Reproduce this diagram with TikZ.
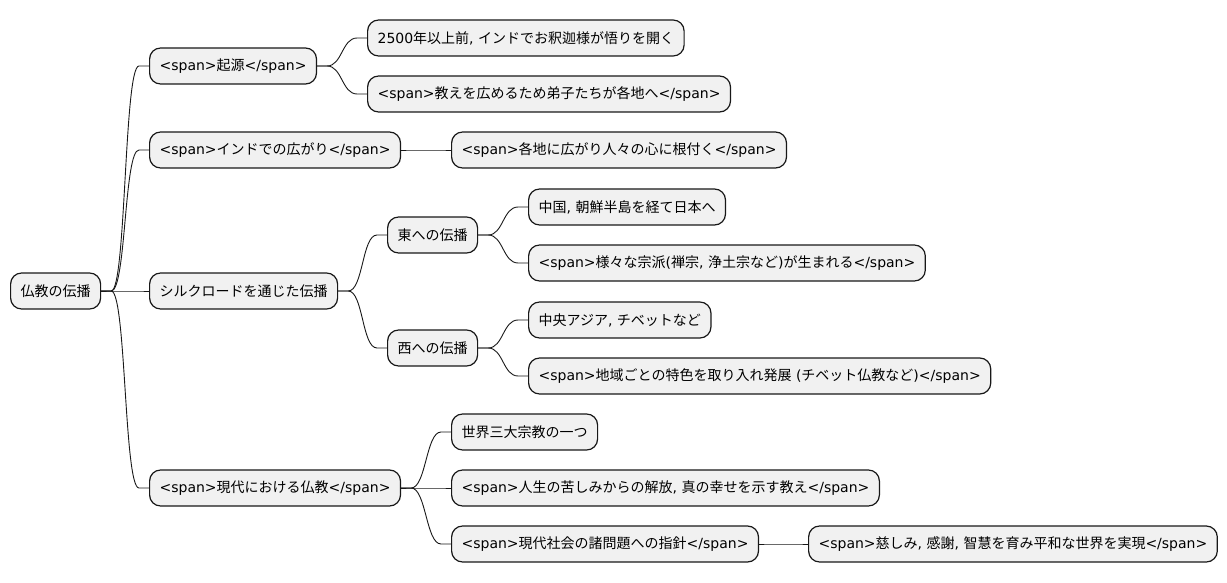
\documentclass[tikz,border=0pt]{standalone}
\usepackage{fontspec}
\setmainfont{DejaVu Sans}
\newfontfamily\jpfont{Noto Sans CJK JP}
\newcommand\jp[1]{{\jpfont #1}}
\definecolor{boxfill}{HTML}{F1F1F1}
\definecolor{boxline}{HTML}{181818}
\tikzset{
    topic/.style={draw=boxline, fill=boxfill, rounded corners=11pt, line width=1.2pt,
        minimum height=36pt, inner xsep=10pt, inner ysep=0pt, anchor=west,
        font=\fontsize{14}{17}\selectfont},
    link/.style={draw=boxline, line width=0.9pt}
}
\newcommand\branch[2]{\draw[link] (#1.east) -- ++(10,0) .. controls +(15,0) and +(-15,0) .. ([xshift=-10pt]#2.west) -- (#2.west);}
\begin{document}
\begin{tikzpicture}[x = 1pt, y = -1pt]
    \useasboundingbox (0,0) rectangle (1227,583);
    % root
    \node[topic] (root) at (10,291) {\jp{仏教の伝播}};
    % first level
    \node[topic] (origin) at (149,66) {<span>\jp{起源}</span>};
    \node[topic] (india) at (149,150) {<span>\jp{インドでの広がり}</span>};
    \node[topic] (silk) at (149,291) {\jp{シルクロードを通じた伝播}};
    \node[topic] (modern) at (149,488) {<span>\jp{現代における仏教}</span>};
    % second level
    \node[topic] (origin1) at (367,38) {2500\jp{年以上前}, \jp{インドでお釈迦様が悟りを開く}};
    \node[topic] (origin2) at (367,94) {<span>\jp{教えを広めるため弟子たちが各地へ}</span>};
    \node[topic] (india1) at (451,150) {<span>\jp{各地に広がり人々の心に根付く}</span>};
    \node[topic] (east) at (387,235) {\jp{東への伝播}};
    \node[topic] (west) at (387,348) {\jp{西への伝播}};
    \node[topic] (modern1) at (451,432) {\jp{世界三大宗教の一つ}};
    \node[topic] (modern2) at (451,488) {<span>\jp{人生の苦しみからの解放}, \jp{真の幸せを示す教え}</span>};
    \node[topic] (modern3) at (451,544) {<span>\jp{現代社会の諸問題への指針}</span>};
    % third level
    \node[topic] (east1) at (528,207) {\jp{中国}, \jp{朝鮮半島を経て日本へ}};
    \node[topic] (east2) at (528,263) {<span>\jp{様々な宗派}(\jp{禅宗}, \jp{浄土宗など})\jp{が生まれる}</span>};
    \node[topic] (west1) at (528,320) {\jp{中央アジア}, \jp{チベットなど}};
    \node[topic] (west2) at (528,376) {<span>\jp{地域ごとの特色を取り入れ発展} (\jp{チベット仏教など})</span>};
    \node[topic] (modern31) at (808,544) {<span>\jp{慈しみ}, \jp{感謝}, \jp{智慧を育み平和な世界を実現}</span>};
    % connectors
    \foreach \p/\c in {root/origin, root/india, root/silk, root/modern,
        origin/origin1, origin/origin2, india/india1, silk/east, silk/west,
        east/east1, east/east2, west/west1, west/west2,
        modern/modern1, modern/modern2, modern/modern3, modern3/modern31}
        \branch{\p}{\c};
\end{tikzpicture}
\end{document}
